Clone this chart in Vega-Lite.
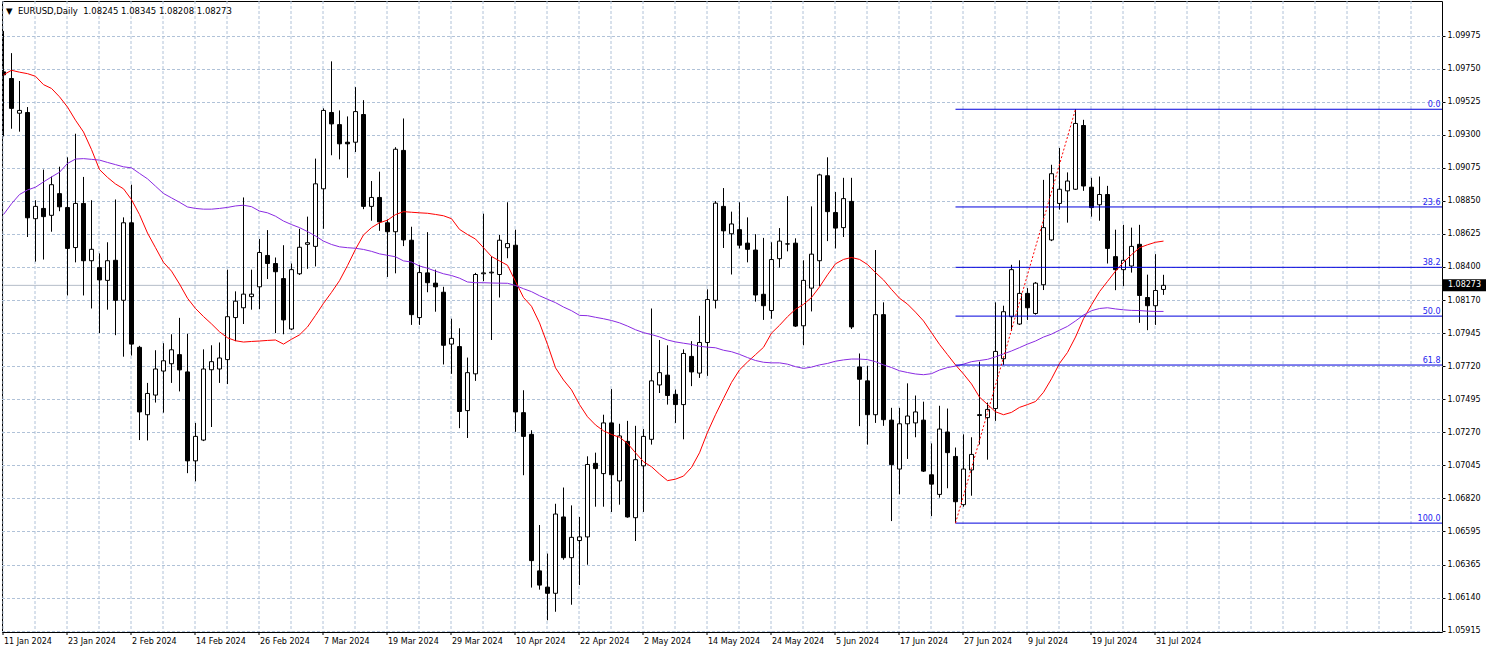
{
"$schema": "https://vega.github.io/schema/vega-lite/v6.json",
"width": 1440, "height": 631,
"autosize": {"type": "none"},
"padding": {"left": 2, "top": 1, "right": 46, "bottom": 22},
"background": "white",
"title": {"text": "▼\u00a0\u00a0EURUSD,Daily\u00a0\u00a01.08245 1.08345 1.08208 1.08273", "anchor": "start", "frame": "group", "orient": "top", "offset": -21, "dx": 4, "baseline": "alphabetic", "font": "DejaVu Sans", "fontSize": 8.5, "fontWeight": "normal", "color": "black"},
"config": {"view": {"stroke": "black", "strokeWidth": 1}, "font": "DejaVu Sans"},
"datasets": {
"candles": [
{"date":"11 Jan 2024","open":1.0973,"high":1.1001,"low":1.0929,"close":1.0971,"ma1":1.0971,"ma2":1.08756},
{"date":"12 Jan 2024","open":1.09685,"high":1.09858,"low":1.09342,"close":1.09481,"ma1":1.09741,"ma2":1.0883},
{"date":"15 Jan 2024","open":1.09448,"high":1.09668,"low":1.09322,"close":1.09467,"ma1":1.09728,"ma2":1.08893},
{"date":"16 Jan 2024","open":1.09453,"high":1.0949,"low":1.08603,"close":1.08734,"ma1":1.09718,"ma2":1.08924},
{"date":"17 Jan 2024","open":1.08728,"high":1.08854,"low":1.08435,"close":1.08812,"ma1":1.097,"ma2":1.08943},
{"date":"18 Jan 2024","open":1.08798,"high":1.09063,"low":1.08449,"close":1.08742,"ma1":1.09643,"ma2":1.08979},
{"date":"19 Jan 2024","open":1.08751,"high":1.09016,"low":1.08639,"close":1.0896,"ma1":1.09617,"ma2":1.09013},
{"date":"22 Jan 2024","open":1.08899,"high":1.09083,"low":1.08779,"close":1.08809,"ma1":1.0956,"ma2":1.09045},
{"date":"23 Jan 2024","open":1.08804,"high":1.09147,"low":1.08204,"close":1.08525,"ma1":1.0949,"ma2":1.09105},
{"date":"24 Jan 2024","open":1.08531,"high":1.09308,"low":1.0843,"close":1.08832,"ma1":1.094,"ma2":1.09135},
{"date":"25 Jan 2024","open":1.08832,"high":1.09013,"low":1.08204,"close":1.08441,"ma1":1.0932,"ma2":1.09138},
{"date":"26 Jan 2024","open":1.08441,"high":1.08854,"low":1.08115,"close":1.08519,"ma1":1.092,"ma2":1.09133},
{"date":"29 Jan 2024","open":1.08394,"high":1.08491,"low":1.07947,"close":1.0831,"ma1":1.09063,"ma2":1.09128},
{"date":"30 Jan 2024","open":1.08307,"high":1.08567,"low":1.08107,"close":1.08441,"ma1":1.0901,"ma2":1.09112},
{"date":"31 Jan 2024","open":1.08444,"high":1.08859,"low":1.07933,"close":1.08171,"ma1":1.08965,"ma2":1.09097},
{"date":"1 Feb 2024","open":1.08171,"high":1.08737,"low":1.07786,"close":1.087,"ma1":1.08932,"ma2":1.09082},
{"date":"2 Feb 2024","open":1.087,"high":1.0896,"low":1.07794,"close":1.07872,"ma1":1.08858,"ma2":1.09075},
{"date":"5 Feb 2024","open":1.0785,"high":1.0786,"low":1.07217,"close":1.07409,"ma1":1.08756,"ma2":1.09037},
{"date":"6 Feb 2024","open":1.0739,"high":1.07607,"low":1.07214,"close":1.07535,"ma1":1.0863,"ma2":1.09},
{"date":"7 Feb 2024","open":1.07524,"high":1.0783,"low":1.07473,"close":1.07702,"ma1":1.0853,"ma2":1.0895},
{"date":"8 Feb 2024","open":1.07688,"high":1.07878,"low":1.07404,"close":1.07758,"ma1":1.0843,"ma2":1.089},
{"date":"9 Feb 2024","open":1.07738,"high":1.07939,"low":1.07607,"close":1.07833,"ma1":1.0837,"ma2":1.0887},
{"date":"12 Feb 2024","open":1.078,"high":1.08051,"low":1.07549,"close":1.07696,"ma1":1.08282,"ma2":1.0884},
{"date":"13 Feb 2024","open":1.07682,"high":1.07942,"low":1.06991,"close":1.07075,"ma1":1.08185,"ma2":1.08808},
{"date":"14 Feb 2024","open":1.07075,"high":1.07334,"low":1.06935,"close":1.07242,"ma1":1.08115,"ma2":1.08798},
{"date":"15 Feb 2024","open":1.07217,"high":1.07836,"low":1.0721,"close":1.07702,"ma1":1.0806,"ma2":1.08793},
{"date":"16 Feb 2024","open":1.07697,"high":1.07864,"low":1.07306,"close":1.07752,"ma1":1.0801,"ma2":1.08793},
{"date":"19 Feb 2024","open":1.07702,"high":1.07883,"low":1.07607,"close":1.07777,"ma1":1.07956,"ma2":1.08798},
{"date":"20 Feb 2024","open":1.07766,"high":1.0838,"low":1.07599,"close":1.08059,"ma1":1.07915,"ma2":1.08805},
{"date":"21 Feb 2024","open":1.08053,"high":1.08232,"low":1.07892,"close":1.08165,"ma1":1.07895,"ma2":1.08815},
{"date":"22 Feb 2024","open":1.0812,"high":1.08873,"low":1.08009,"close":1.08213,"ma1":1.07886,"ma2":1.0882},
{"date":"23 Feb 2024","open":1.08196,"high":1.0838,"low":1.08107,"close":1.08213,"ma1":1.0789,"ma2":1.0881},
{"date":"26 Feb 2024","open":1.08263,"high":1.08589,"low":1.0811,"close":1.08497,"ma1":1.07893,"ma2":1.0878},
{"date":"27 Feb 2024","open":1.08477,"high":1.0865,"low":1.08316,"close":1.08422,"ma1":1.07897,"ma2":1.08768},
{"date":"28 Feb 2024","open":1.08422,"high":1.08463,"low":1.07947,"close":1.08366,"ma1":1.079,"ma2":1.08745},
{"date":"29 Feb 2024","open":1.08319,"high":1.08547,"low":1.07939,"close":1.08037,"ma1":1.07872,"ma2":1.08712},
{"date":"1 Mar 2024","open":1.07975,"high":1.08422,"low":1.07967,"close":1.0838,"ma1":1.07905,"ma2":1.08688},
{"date":"4 Mar 2024","open":1.08352,"high":1.08659,"low":1.08344,"close":1.08533,"ma1":1.07935,"ma2":1.08667},
{"date":"5 Mar 2024","open":1.08553,"high":1.08742,"low":1.08386,"close":1.08564,"ma1":1.07989,"ma2":1.0864},
{"date":"6 Mar 2024","open":1.08539,"high":1.09138,"low":1.08402,"close":1.08966,"ma1":1.08068,"ma2":1.0861},
{"date":"7 Mar 2024","open":1.08932,"high":1.09481,"low":1.08659,"close":1.09467,"ma1":1.0815,"ma2":1.08575},
{"date":"8 Mar 2024","open":1.09453,"high":1.09802,"low":1.09161,"close":1.09375,"ma1":1.08225,"ma2":1.08552},
{"date":"11 Mar 2024","open":1.0937,"high":1.09467,"low":1.09133,"close":1.09239,"ma1":1.08305,"ma2":1.08536},
{"date":"12 Mar 2024","open":1.0925,"high":1.09426,"low":1.09007,"close":1.09239,"ma1":1.08408,"ma2":1.0853},
{"date":"13 Mar 2024","open":1.0925,"high":1.09626,"low":1.09183,"close":1.09459,"ma1":1.08519,"ma2":1.08526},
{"date":"14 Mar 2024","open":1.09439,"high":1.09537,"low":1.08793,"close":1.08812,"ma1":1.08617,"ma2":1.08518},
{"date":"15 Mar 2024","open":1.08812,"high":1.08985,"low":1.08714,"close":1.08873,"ma1":1.08667,"ma2":1.08505},
{"date":"18 Mar 2024","open":1.08873,"high":1.09049,"low":1.08645,"close":1.08706,"ma1":1.087,"ma2":1.08488},
{"date":"19 Mar 2024","open":1.087,"high":1.08723,"low":1.0833,"close":1.08639,"ma1":1.08718,"ma2":1.08478},
{"date":"20 Mar 2024","open":1.08639,"high":1.09216,"low":1.08355,"close":1.09202,"ma1":1.08756,"ma2":1.08468},
{"date":"21 Mar 2024","open":1.09194,"high":1.09412,"low":1.08541,"close":1.08583,"ma1":1.08776,"ma2":1.0844},
{"date":"22 Mar 2024","open":1.08581,"high":1.08673,"low":1.08003,"close":1.08073,"ma1":1.08772,"ma2":1.08432},
{"date":"25 Mar 2024","open":1.08053,"high":1.08413,"low":1.08003,"close":1.0836,"ma1":1.08768,"ma2":1.08405},
{"date":"26 Mar 2024","open":1.08358,"high":1.08636,"low":1.08226,"close":1.08291,"ma1":1.08765,"ma2":1.0839},
{"date":"27 Mar 2024","open":1.08288,"high":1.0838,"low":1.08093,"close":1.08263,"ma1":1.08757,"ma2":1.0837},
{"date":"28 Mar 2024","open":1.08226,"high":1.08263,"low":1.07733,"close":1.07864,"ma1":1.08748,"ma2":1.08352},
{"date":"29 Mar 2024","open":1.07872,"high":1.08045,"low":1.07669,"close":1.07911,"ma1":1.08728,"ma2":1.0834},
{"date":"1 Apr 2024","open":1.07855,"high":1.0798,"low":1.07298,"close":1.07412,"ma1":1.08655,"ma2":1.08322},
{"date":"2 Apr 2024","open":1.07418,"high":1.0778,"low":1.07231,"close":1.07677,"ma1":1.0862,"ma2":1.08296},
{"date":"3 Apr 2024","open":1.07669,"high":1.08358,"low":1.07621,"close":1.08347,"ma1":1.08589,"ma2":1.08291},
{"date":"4 Apr 2024","open":1.08352,"high":1.08762,"low":1.08302,"close":1.08358,"ma1":1.0853,"ma2":1.08291},
{"date":"5 Apr 2024","open":1.08358,"high":1.08472,"low":1.079,"close":1.08363,"ma1":1.0847,"ma2":1.08289},
{"date":"8 Apr 2024","open":1.08347,"high":1.08617,"low":1.0819,"close":1.08581,"ma1":1.0844,"ma2":1.08288},
{"date":"9 Apr 2024","open":1.0853,"high":1.0884,"low":1.08458,"close":1.08558,"ma1":1.0841,"ma2":1.08287},
{"date":"10 Apr 2024","open":1.08547,"high":1.08653,"low":1.07273,"close":1.07409,"ma1":1.083,"ma2":1.08272},
{"date":"11 Apr 2024","open":1.07404,"high":1.07557,"low":1.06977,"close":1.07242,"ma1":1.0819,"ma2":1.0825},
{"date":"12 Apr 2024","open":1.07256,"high":1.07284,"low":1.0621,"close":1.06394,"ma1":1.0813,"ma2":1.0823},
{"date":"15 Apr 2024","open":1.06324,"high":1.06637,"low":1.06196,"close":1.06227,"ma1":1.08017,"ma2":1.08202},
{"date":"16 Apr 2024","open":1.06213,"high":1.06442,"low":1.05987,"close":1.06171,"ma1":1.0787,"ma2":1.08178},
{"date":"17 Apr 2024","open":1.06171,"high":1.06782,"low":1.06045,"close":1.06712,"ma1":1.0771,"ma2":1.08155},
{"date":"18 Apr 2024","open":1.06692,"high":1.06893,"low":1.064,"close":1.06414,"ma1":1.07627,"ma2":1.08125},
{"date":"19 Apr 2024","open":1.06414,"high":1.06771,"low":1.06093,"close":1.06553,"ma1":1.0756,"ma2":1.081},
{"date":"22 Apr 2024","open":1.06531,"high":1.06692,"low":1.06227,"close":1.06556,"ma1":1.07459,"ma2":1.08068},
{"date":"23 Apr 2024","open":1.06556,"high":1.07106,"low":1.06366,"close":1.0705,"ma1":1.07376,"ma2":1.08066},
{"date":"24 Apr 2024","open":1.07058,"high":1.07131,"low":1.06762,"close":1.07022,"ma1":1.0732,"ma2":1.08055},
{"date":"25 Apr 2024","open":1.06988,"high":1.0739,"low":1.06762,"close":1.07334,"ma1":1.0728,"ma2":1.08045},
{"date":"26 Apr 2024","open":1.07334,"high":1.07565,"low":1.06726,"close":1.0698,"ma1":1.07255,"ma2":1.08033},
{"date":"29 Apr 2024","open":1.06938,"high":1.07328,"low":1.06776,"close":1.07245,"ma1":1.07236,"ma2":1.08017},
{"date":"30 Apr 2024","open":1.07208,"high":1.07348,"low":1.06687,"close":1.06692,"ma1":1.07194,"ma2":1.07995},
{"date":"1 May 2024","open":1.06687,"high":1.07314,"low":1.06528,"close":1.07083,"ma1":1.0713,"ma2":1.0797},
{"date":"2 May 2024","open":1.07041,"high":1.07292,"low":1.06726,"close":1.07242,"ma1":1.07069,"ma2":1.0795},
{"date":"3 May 2024","open":1.07222,"high":1.08115,"low":1.07186,"close":1.07621,"ma1":1.07035,"ma2":1.07937},
{"date":"6 May 2024","open":1.07593,"high":1.079,"low":1.07538,"close":1.07677,"ma1":1.06985,"ma2":1.07921},
{"date":"7 May 2024","open":1.0766,"high":1.07864,"low":1.07459,"close":1.07521,"ma1":1.0694,"ma2":1.079},
{"date":"8 May 2024","open":1.07529,"high":1.07562,"low":1.07334,"close":1.07459,"ma1":1.0695,"ma2":1.07887},
{"date":"9 May 2024","open":1.07459,"high":1.07836,"low":1.07222,"close":1.07808,"ma1":1.06971,"ma2":1.07878},
{"date":"10 May 2024","open":1.07788,"high":1.07892,"low":1.07585,"close":1.07682,"ma1":1.0703,"ma2":1.0787},
{"date":"13 May 2024","open":1.07674,"high":1.08065,"low":1.07641,"close":1.07883,"ma1":1.0713,"ma2":1.07857},
{"date":"14 May 2024","open":1.07883,"high":1.08246,"low":1.07655,"close":1.08176,"ma1":1.0727,"ma2":1.07851},
{"date":"15 May 2024","open":1.08171,"high":1.08848,"low":1.08115,"close":1.08834,"ma1":1.0739,"ma2":1.07847},
{"date":"16 May 2024","open":1.08812,"high":1.08937,"low":1.08528,"close":1.08645,"ma1":1.07501,"ma2":1.0783},
{"date":"17 May 2024","open":1.08625,"high":1.08776,"low":1.08347,"close":1.08692,"ma1":1.0761,"ma2":1.0782},
{"date":"20 May 2024","open":1.08653,"high":1.0884,"low":1.08525,"close":1.08547,"ma1":1.07696,"ma2":1.07802},
{"date":"21 May 2024","open":1.08561,"high":1.08737,"low":1.0843,"close":1.08519,"ma1":1.0775,"ma2":1.0778},
{"date":"22 May 2024","open":1.08514,"high":1.08622,"low":1.08162,"close":1.08207,"ma1":1.078,"ma2":1.0776},
{"date":"23 May 2024","open":1.08212,"high":1.08597,"low":1.08037,"close":1.08134,"ma1":1.0785,"ma2":1.07748},
{"date":"24 May 2024","open":1.08101,"high":1.08567,"low":1.08045,"close":1.08449,"ma1":1.07947,"ma2":1.07744},
{"date":"27 May 2024","open":1.08455,"high":1.08664,"low":1.08394,"close":1.08575,"ma1":1.08,"ma2":1.07744},
{"date":"28 May 2024","open":1.08556,"high":1.08882,"low":1.08505,"close":1.08555,"ma1":1.08059,"ma2":1.07735},
{"date":"29 May 2024","open":1.08561,"high":1.08594,"low":1.07989,"close":1.07995,"ma1":1.0811,"ma2":1.07718},
{"date":"30 May 2024","open":1.07997,"high":1.08444,"low":1.07864,"close":1.08307,"ma1":1.08143,"ma2":1.07706},
{"date":"31 May 2024","open":1.08254,"high":1.08812,"low":1.08095,"close":1.08486,"ma1":1.0819,"ma2":1.07715},
{"date":"3 Jun 2024","open":1.08441,"high":1.09035,"low":1.08268,"close":1.09027,"ma1":1.08262,"ma2":1.0773},
{"date":"4 Jun 2024","open":1.09021,"high":1.09147,"low":1.08575,"close":1.08776,"ma1":1.08345,"ma2":1.0774},
{"date":"5 Jun 2024","open":1.0877,"high":1.0891,"low":1.08525,"close":1.08664,"ma1":1.0842,"ma2":1.07755},
{"date":"6 Jun 2024","open":1.08667,"high":1.09007,"low":1.08603,"close":1.08865,"ma1":1.0845,"ma2":1.07764},
{"date":"7 Jun 2024","open":1.08846,"high":1.09007,"low":1.07975,"close":1.07989,"ma1":1.08463,"ma2":1.0777},
{"date":"10 Jun 2024","open":1.07716,"high":1.07808,"low":1.07312,"close":1.07632,"ma1":1.0845,"ma2":1.0777},
{"date":"11 Jun 2024","open":1.07621,"high":1.07724,"low":1.07186,"close":1.0739,"ma1":1.08415,"ma2":1.07766},
{"date":"12 Jun 2024","open":1.0739,"high":1.08514,"low":1.07334,"close":1.08073,"ma1":1.0836,"ma2":1.07752},
{"date":"13 Jun 2024","open":1.08073,"high":1.08157,"low":1.07314,"close":1.07356,"ma1":1.0831,"ma2":1.0773},
{"date":"14 Jun 2024","open":1.07353,"high":1.07437,"low":1.06664,"close":1.07049,"ma1":1.08245,"ma2":1.07712},
{"date":"17 Jun 2024","open":1.07019,"high":1.07437,"low":1.06846,"close":1.07328,"ma1":1.08185,"ma2":1.0769},
{"date":"18 Jun 2024","open":1.07328,"high":1.07604,"low":1.07088,"close":1.07381,"ma1":1.08145,"ma2":1.07678},
{"date":"19 Jun 2024","open":1.07334,"high":1.07521,"low":1.07236,"close":1.07409,"ma1":1.0809,"ma2":1.07668},
{"date":"20 Jun 2024","open":1.07353,"high":1.07479,"low":1.06999,"close":1.07005,"ma1":1.0803,"ma2":1.07663},
{"date":"21 Jun 2024","open":1.0698,"high":1.07194,"low":1.06698,"close":1.06916,"ma1":1.0795,"ma2":1.0767},
{"date":"24 Jun 2024","open":1.06846,"high":1.07451,"low":1.06824,"close":1.07292,"ma1":1.0787,"ma2":1.07695},
{"date":"25 Jun 2024","open":1.07272,"high":1.07432,"low":1.06888,"close":1.07131,"ma1":1.078,"ma2":1.07712},
{"date":"26 Jun 2024","open":1.07105,"high":1.07166,"low":1.0665,"close":1.06796,"ma1":1.0773,"ma2":1.07722},
{"date":"27 Jun 2024","open":1.06776,"high":1.07256,"low":1.06762,"close":1.07019,"ma1":1.07668,"ma2":1.07735},
{"date":"28 Jun 2024","open":1.07013,"high":1.07236,"low":1.06837,"close":1.07119,"ma1":1.076,"ma2":1.07752},
{"date":"1 Jul 2024","open":1.0739,"high":1.07752,"low":1.07186,"close":1.07385,"ma1":1.0751,"ma2":1.0776},
{"date":"2 Jul 2024","open":1.0737,"high":1.07473,"low":1.07083,"close":1.07426,"ma1":1.0746,"ma2":1.07768},
{"date":"3 Jul 2024","open":1.07432,"high":1.08157,"low":1.07348,"close":1.07822,"ma1":1.0741,"ma2":1.07785},
{"date":"4 Jul 2024","open":1.07772,"high":1.08134,"low":1.0773,"close":1.08093,"ma1":1.0739,"ma2":1.07805},
{"date":"5 Jul 2024","open":1.08059,"high":1.08413,"low":1.07961,"close":1.0838,"ma1":1.07406,"ma2":1.07825},
{"date":"8 Jul 2024","open":1.08009,"high":1.08444,"low":1.08003,"close":1.08218,"ma1":1.0744,"ma2":1.07848},
{"date":"9 Jul 2024","open":1.08218,"high":1.08254,"low":1.08037,"close":1.0812,"ma1":1.07459,"ma2":1.07872},
{"date":"10 Jul 2024","open":1.08081,"high":1.08296,"low":1.08073,"close":1.08288,"ma1":1.0748,"ma2":1.07893},
{"date":"11 Jul 2024","open":1.08277,"high":1.08993,"low":1.08241,"close":1.08667,"ma1":1.07543,"ma2":1.0792},
{"date":"12 Jul 2024","open":1.08583,"high":1.09096,"low":1.08575,"close":1.09035,"ma1":1.07635,"ma2":1.0794},
{"date":"15 Jul 2024","open":1.08832,"high":1.09211,"low":1.0879,"close":1.08929,"ma1":1.0774,"ma2":1.07967},
{"date":"16 Jul 2024","open":1.08918,"high":1.09044,"low":1.08701,"close":1.08985,"ma1":1.07815,"ma2":1.07993},
{"date":"17 Jul 2024","open":1.08929,"high":1.09475,"low":1.08924,"close":1.09378,"ma1":1.0792,"ma2":1.0803},
{"date":"18 Jul 2024","open":1.09364,"high":1.09403,"low":1.08918,"close":1.08951,"ma1":1.08045,"ma2":1.0807},
{"date":"19 Jul 2024","open":1.08943,"high":1.09007,"low":1.08742,"close":1.08804,"ma1":1.0814,"ma2":1.081},
{"date":"22 Jul 2024","open":1.08823,"high":1.09016,"low":1.08714,"close":1.08893,"ma1":1.0823,"ma2":1.08115},
{"date":"23 Jul 2024","open":1.08893,"high":1.08952,"low":1.08422,"close":1.08525,"ma1":1.083,"ma2":1.0812},
{"date":"24 Jul 2024","open":1.08469,"high":1.08653,"low":1.0824,"close":1.0838,"ma1":1.0837,"ma2":1.08112},
{"date":"25 Jul 2024","open":1.0838,"high":1.08686,"low":1.08268,"close":1.08444,"ma1":1.0843,"ma2":1.08106},
{"date":"26 Jul 2024","open":1.08405,"high":1.08667,"low":1.0836,"close":1.08539,"ma1":1.08482,"ma2":1.08102},
{"date":"29 Jul 2024","open":1.08553,"high":1.08686,"low":1.08017,"close":1.08204,"ma1":1.0853,"ma2":1.08101},
{"date":"30 Jul 2024","open":1.0819,"high":1.08346,"low":1.07967,"close":1.08134,"ma1":1.0855,"ma2":1.08097},
{"date":"31 Jul 2024","open":1.08134,"high":1.08486,"low":1.08003,"close":1.08238,"ma1":1.08567,"ma2":1.08095},
{"date":"1 Aug 2024","open":1.08245,"high":1.08345,"low":1.08208,"close":1.08273,"ma1":1.08575,"ma2":1.08095}
],
"fib": [
{"date":"26 Jun 2024","end":"19 Sep 2024","level":1.09475,"label":"0.0"},
{"date":"26 Jun 2024","end":"19 Sep 2024","level":1.08808,"label":"23.6"},
{"date":"26 Jun 2024","end":"19 Sep 2024","level":1.08396,"label":"38.2"},
{"date":"26 Jun 2024","end":"19 Sep 2024","level":1.08063,"label":"50.0"},
{"date":"26 Jun 2024","end":"19 Sep 2024","level":1.07729,"label":"61.8"},
{"date":"26 Jun 2024","end":"19 Sep 2024","level":1.0665,"label":"100.0"}
],
"fibtext": [
{"date":"18 Sep 2024","level":1.09475,"label":"0.0"},
{"date":"18 Sep 2024","level":1.08808,"label":"23.6"},
{"date":"18 Sep 2024","level":1.08396,"label":"38.2"},
{"date":"18 Sep 2024","level":1.08063,"label":"50.0"},
{"date":"18 Sep 2024","level":1.07729,"label":"61.8"},
{"date":"18 Sep 2024","level":1.0665,"label":"100.0"}
],
"trend": [
{"date":"26 Jun 2024","price":1.0665},
{"date":"17 Jul 2024","price":1.09475}
],
"current": [
{"date":"11 Jan 2024","end":"24 Sep 2024","price":1.08273}
],
"tag": [
{"date":"24 Sep 2024","price":1.08273,"label":"1.08273"}
]
},
"encoding": {
"x": {"field":"date","type":"ordinal","sort":null,"title":null,
"scale":{"domain":["11 Jan 2024","12 Jan 2024","15 Jan 2024","16 Jan 2024","17 Jan 2024","18 Jan 2024","19 Jan 2024","22 Jan 2024","23 Jan 2024","24 Jan 2024","25 Jan 2024","26 Jan 2024","29 Jan 2024","30 Jan 2024","31 Jan 2024","1 Feb 2024","2 Feb 2024","5 Feb 2024","6 Feb 2024","7 Feb 2024","8 Feb 2024","9 Feb 2024","12 Feb 2024","13 Feb 2024","14 Feb 2024","15 Feb 2024","16 Feb 2024","19 Feb 2024","20 Feb 2024","21 Feb 2024","22 Feb 2024","23 Feb 2024","26 Feb 2024","27 Feb 2024","28 Feb 2024","29 Feb 2024","1 Mar 2024","4 Mar 2024","5 Mar 2024","6 Mar 2024","7 Mar 2024","8 Mar 2024","11 Mar 2024","12 Mar 2024","13 Mar 2024","14 Mar 2024","15 Mar 2024","18 Mar 2024","19 Mar 2024","20 Mar 2024","21 Mar 2024","22 Mar 2024","25 Mar 2024","26 Mar 2024","27 Mar 2024","28 Mar 2024","29 Mar 2024","1 Apr 2024","2 Apr 2024","3 Apr 2024","4 Apr 2024","5 Apr 2024","8 Apr 2024","9 Apr 2024","10 Apr 2024","11 Apr 2024","12 Apr 2024","15 Apr 2024","16 Apr 2024","17 Apr 2024","18 Apr 2024","19 Apr 2024","22 Apr 2024","23 Apr 2024","24 Apr 2024","25 Apr 2024","26 Apr 2024","29 Apr 2024","30 Apr 2024","1 May 2024","2 May 2024","3 May 2024","6 May 2024","7 May 2024","8 May 2024","9 May 2024","10 May 2024","13 May 2024","14 May 2024","15 May 2024","16 May 2024","17 May 2024","20 May 2024","21 May 2024","22 May 2024","23 May 2024","24 May 2024","27 May 2024","28 May 2024","29 May 2024","30 May 2024","31 May 2024","3 Jun 2024","4 Jun 2024","5 Jun 2024","6 Jun 2024","7 Jun 2024","10 Jun 2024","11 Jun 2024","12 Jun 2024","13 Jun 2024","14 Jun 2024","17 Jun 2024","18 Jun 2024","19 Jun 2024","20 Jun 2024","21 Jun 2024","24 Jun 2024","25 Jun 2024","26 Jun 2024","27 Jun 2024","28 Jun 2024","1 Jul 2024","2 Jul 2024","3 Jul 2024","4 Jul 2024","5 Jul 2024","8 Jul 2024","9 Jul 2024","10 Jul 2024","11 Jul 2024","12 Jul 2024","15 Jul 2024","16 Jul 2024","17 Jul 2024","18 Jul 2024","19 Jul 2024","22 Jul 2024","23 Jul 2024","24 Jul 2024","25 Jul 2024","26 Jul 2024","29 Jul 2024","30 Jul 2024","31 Jul 2024","1 Aug 2024","2 Aug 2024","5 Aug 2024","6 Aug 2024","7 Aug 2024","8 Aug 2024","9 Aug 2024","12 Aug 2024","13 Aug 2024","14 Aug 2024","15 Aug 2024","16 Aug 2024","19 Aug 2024","20 Aug 2024","21 Aug 2024","22 Aug 2024","23 Aug 2024","26 Aug 2024","27 Aug 2024","28 Aug 2024","29 Aug 2024","30 Aug 2024","2 Sep 2024","3 Sep 2024","4 Sep 2024","5 Sep 2024","6 Sep 2024","9 Sep 2024","10 Sep 2024","11 Sep 2024","12 Sep 2024","13 Sep 2024","16 Sep 2024","17 Sep 2024","18 Sep 2024","19 Sep 2024","20 Sep 2024","23 Sep 2024","24 Sep 2024"],
"range":[-2.5,1469.5],"paddingInner":0,"paddingOuter":0},
"axis":{
"labelExpr":"indexof(['11 Jan 2024','23 Jan 2024','2 Feb 2024','14 Feb 2024','26 Feb 2024','7 Mar 2024','19 Mar 2024','29 Mar 2024','10 Apr 2024','22 Apr 2024','2 May 2024','14 May 2024','24 May 2024','5 Jun 2024','17 Jun 2024','27 Jun 2024','9 Jul 2024','19 Jul 2024','31 Jul 2024'], datum.value) >= 0 ? datum.value : ''",
"tickOpacity":{"condition":{"test":"indexof(['11 Jan 2024','23 Jan 2024','2 Feb 2024','14 Feb 2024','26 Feb 2024','7 Mar 2024','19 Mar 2024','29 Mar 2024','10 Apr 2024','22 Apr 2024','2 May 2024','14 May 2024','24 May 2024','5 Jun 2024','17 Jun 2024','27 Jun 2024','9 Jul 2024','19 Jul 2024','31 Jul 2024'], datum.value) >= 0","value":1},"value":0},
"gridOpacity":{"condition":{"test":"indexof(['11 Jan 2024','17 Jan 2024','23 Jan 2024','29 Jan 2024','2 Feb 2024','8 Feb 2024','14 Feb 2024','20 Feb 2024','26 Feb 2024','1 Mar 2024','7 Mar 2024','13 Mar 2024','19 Mar 2024','25 Mar 2024','29 Mar 2024','4 Apr 2024','10 Apr 2024','16 Apr 2024','22 Apr 2024','26 Apr 2024','2 May 2024','8 May 2024','14 May 2024','20 May 2024','24 May 2024','30 May 2024','5 Jun 2024','11 Jun 2024','17 Jun 2024','21 Jun 2024','27 Jun 2024','3 Jul 2024','9 Jul 2024','15 Jul 2024','19 Jul 2024','25 Jul 2024','31 Jul 2024','6 Aug 2024','12 Aug 2024','16 Aug 2024','22 Aug 2024','28 Aug 2024','3 Sep 2024','9 Sep 2024','13 Sep 2024'], datum.value) >= 0","value":1},"value":0},
"grid":true,"gridColor":"#B0C2D8","gridDash":[3,2],"gridWidth":1,"domain":false,"tickColor":"black","tickSize":3,"tickWidth":1,"bandPosition":0.5,"translate":0,
"labelAlign":"left","labelAngle":0,"labelBaseline":"top","labelPadding":3,"labelOffset":1,"labelFont":"DejaVu Sans","labelFontSize":8,"labelColor":"black","labelOverlap":false,"labelBound":false,"labelFlush":false}}
},
"layer": [
{"data":{"name":"current"},
 "mark":{"type":"rule","color":"#B4BCC8","strokeWidth":1,"clip":true},
 "encoding":{"x2":{"field":"end"},
  "y":{"field":"price","type":"quantitative","title":null,"scale":{"domain":[1.059068,1.102139],"nice":false,"zero":false},
   "axis":{"orient":"right","values":[1.09975,1.0975,1.09525,1.093,1.09075,1.0885,1.08625,1.084,1.0817,1.07945,1.0772,1.07495,1.0727,1.07045,1.0682,1.06595,1.06365,1.0614,1.05915],"format":".5f","grid":true,"gridColor":"#B0C2D8","gridDash":[3,2],"domain":false,"tickColor":"black","tickSize":3,"labelPadding":2,"labelFont":"DejaVu Sans","labelFontSize":8,"labelColor":"black","labelBaseline":"middle","labelOverlap":false,"labelBound":false,"labelFlush":false,"title":null}}}},
{"data":{"name":"candles"},
 "mark":{"type":"rule","color":"black","strokeWidth":1,"clip":true},
 "encoding":{"y":{"field":"low","type":"quantitative","title":null,"scale":{"domain":[1.059068,1.102139],"nice":false,"zero":false},
   "axis":{"orient":"right","values":[1.09975,1.0975,1.09525,1.093,1.09075,1.0885,1.08625,1.084,1.0817,1.07945,1.0772,1.07495,1.0727,1.07045,1.0682,1.06595,1.06365,1.0614,1.05915],"format":".5f","grid":true,"gridColor":"#B0C2D8","gridDash":[3,2],"domain":false,"tickColor":"black","tickSize":3,"labelPadding":2,"labelFont":"DejaVu Sans","labelFontSize":8,"labelColor":"black","labelBaseline":"middle","labelOverlap":false,"labelBound":false,"labelFlush":false,"title":null}},"y2":{"field":"high"}}},
{"data":{"name":"candles"},
 "mark":{"type":"bar","width":4,"stroke":"black","strokeWidth":1,"clip":true},
 "encoding":{"y":{"field":"open","type":"quantitative","title":null,"scale":{"domain":[1.059068,1.102139],"nice":false,"zero":false},
   "axis":{"orient":"right","values":[1.09975,1.0975,1.09525,1.093,1.09075,1.0885,1.08625,1.084,1.0817,1.07945,1.0772,1.07495,1.0727,1.07045,1.0682,1.06595,1.06365,1.0614,1.05915],"format":".5f","grid":true,"gridColor":"#B0C2D8","gridDash":[3,2],"domain":false,"tickColor":"black","tickSize":3,"labelPadding":2,"labelFont":"DejaVu Sans","labelFontSize":8,"labelColor":"black","labelBaseline":"middle","labelOverlap":false,"labelBound":false,"labelFlush":false,"title":null}},"y2":{"field":"close"},
  "fill":{"condition":{"test":"datum.close < datum.open","value":"black"},"value":"white"}}},
{"data":{"name":"candles"},
 "mark":{"type":"line","color":"#FF0000","strokeWidth":1,"clip":true},
 "encoding":{"y":{"field":"ma1","type":"quantitative","title":null,"scale":{"domain":[1.059068,1.102139],"nice":false,"zero":false},
   "axis":{"orient":"right","values":[1.09975,1.0975,1.09525,1.093,1.09075,1.0885,1.08625,1.084,1.0817,1.07945,1.0772,1.07495,1.0727,1.07045,1.0682,1.06595,1.06365,1.0614,1.05915],"format":".5f","grid":true,"gridColor":"#B0C2D8","gridDash":[3,2],"domain":false,"tickColor":"black","tickSize":3,"labelPadding":2,"labelFont":"DejaVu Sans","labelFontSize":8,"labelColor":"black","labelBaseline":"middle","labelOverlap":false,"labelBound":false,"labelFlush":false,"title":null}}}},
{"data":{"name":"candles"},
 "mark":{"type":"line","color":"#8A2BE2","strokeWidth":1,"clip":true},
 "encoding":{"y":{"field":"ma2","type":"quantitative","title":null,"scale":{"domain":[1.059068,1.102139],"nice":false,"zero":false},
   "axis":{"orient":"right","values":[1.09975,1.0975,1.09525,1.093,1.09075,1.0885,1.08625,1.084,1.0817,1.07945,1.0772,1.07495,1.0727,1.07045,1.0682,1.06595,1.06365,1.0614,1.05915],"format":".5f","grid":true,"gridColor":"#B0C2D8","gridDash":[3,2],"domain":false,"tickColor":"black","tickSize":3,"labelPadding":2,"labelFont":"DejaVu Sans","labelFontSize":8,"labelColor":"black","labelBaseline":"middle","labelOverlap":false,"labelBound":false,"labelFlush":false,"title":null}}}},
{"data":{"name":"fib"},
 "mark":{"type":"rule","color":"#0000DD","strokeWidth":1,"clip":true},
 "encoding":{"x2":{"field":"end"},"y":{"field":"level","type":"quantitative","title":null,"scale":{"domain":[1.059068,1.102139],"nice":false,"zero":false},
   "axis":{"orient":"right","values":[1.09975,1.0975,1.09525,1.093,1.09075,1.0885,1.08625,1.084,1.0817,1.07945,1.0772,1.07495,1.0727,1.07045,1.0682,1.06595,1.06365,1.0614,1.05915],"format":".5f","grid":true,"gridColor":"#B0C2D8","gridDash":[3,2],"domain":false,"tickColor":"black","tickSize":3,"labelPadding":2,"labelFont":"DejaVu Sans","labelFontSize":8,"labelColor":"black","labelBaseline":"middle","labelOverlap":false,"labelBound":false,"labelFlush":false,"title":null}}}},
{"data":{"name":"trend"},
 "mark":{"type":"line","color":"#FF0000","strokeWidth":1,"strokeDash":[2,2],"clip":true},
 "encoding":{"y":{"field":"price","type":"quantitative","title":null,"scale":{"domain":[1.059068,1.102139],"nice":false,"zero":false},
   "axis":{"orient":"right","values":[1.09975,1.0975,1.09525,1.093,1.09075,1.0885,1.08625,1.084,1.0817,1.07945,1.0772,1.07495,1.0727,1.07045,1.0682,1.06595,1.06365,1.0614,1.05915],"format":".5f","grid":true,"gridColor":"#B0C2D8","gridDash":[3,2],"domain":false,"tickColor":"black","tickSize":3,"labelPadding":2,"labelFont":"DejaVu Sans","labelFontSize":8,"labelColor":"black","labelBaseline":"middle","labelOverlap":false,"labelBound":false,"labelFlush":false,"title":null}}}},
{"data":{"name":"fibtext"},
 "mark":{"type":"text","color":"#2424F0","font":"DejaVu Sans","fontSize":8,"align":"right","baseline":"alphabetic","dx":5,"dy":-2},
 "encoding":{"y":{"field":"level","type":"quantitative","title":null,"scale":{"domain":[1.059068,1.102139],"nice":false,"zero":false},
   "axis":{"orient":"right","values":[1.09975,1.0975,1.09525,1.093,1.09075,1.0885,1.08625,1.084,1.0817,1.07945,1.0772,1.07495,1.0727,1.07045,1.0682,1.06595,1.06365,1.0614,1.05915],"format":".5f","grid":true,"gridColor":"#B0C2D8","gridDash":[3,2],"domain":false,"tickColor":"black","tickSize":3,"labelPadding":2,"labelFont":"DejaVu Sans","labelFontSize":8,"labelColor":"black","labelBaseline":"middle","labelOverlap":false,"labelBound":false,"labelFlush":false,"title":null}},"text":{"field":"label"}}},
{"data":{"name":"tag"},
 "mark":{"type":"tick","orient":"horizontal","size":43,"thickness":12,"color":"black","opacity":1,"xOffset":-3},
 "encoding":{"y":{"field":"price","type":"quantitative","title":null,"scale":{"domain":[1.059068,1.102139],"nice":false,"zero":false},
   "axis":{"orient":"right","values":[1.09975,1.0975,1.09525,1.093,1.09075,1.0885,1.08625,1.084,1.0817,1.07945,1.0772,1.07495,1.0727,1.07045,1.0682,1.06595,1.06365,1.0614,1.05915],"format":".5f","grid":true,"gridColor":"#B0C2D8","gridDash":[3,2],"domain":false,"tickColor":"black","tickSize":3,"labelPadding":2,"labelFont":"DejaVu Sans","labelFontSize":8,"labelColor":"black","labelBaseline":"middle","labelOverlap":false,"labelBound":false,"labelFlush":false,"title":null}}}},
{"data":{"name":"tag"},
 "mark":{"type":"text","color":"white","font":"DejaVu Sans","fontSize":8,"align":"center","baseline":"middle","dx":-3},
 "encoding":{"y":{"field":"price","type":"quantitative","title":null,"scale":{"domain":[1.059068,1.102139],"nice":false,"zero":false},
   "axis":{"orient":"right","values":[1.09975,1.0975,1.09525,1.093,1.09075,1.0885,1.08625,1.084,1.0817,1.07945,1.0772,1.07495,1.0727,1.07045,1.0682,1.06595,1.06365,1.0614,1.05915],"format":".5f","grid":true,"gridColor":"#B0C2D8","gridDash":[3,2],"domain":false,"tickColor":"black","tickSize":3,"labelPadding":2,"labelFont":"DejaVu Sans","labelFontSize":8,"labelColor":"black","labelBaseline":"middle","labelOverlap":false,"labelBound":false,"labelFlush":false,"title":null}},"text":{"field":"label"}}}
]
}
